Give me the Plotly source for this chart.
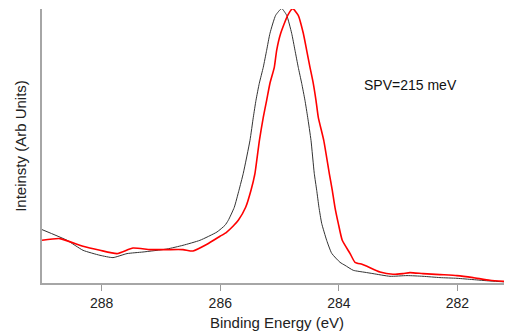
import plotly.graph_objects as go

# Binding energy (eV) and intensity (arb. units)
black_energy = [289.007, 288.585, 288.315, 288.029, 287.81, 287.573, 287.304, 286.90, 286.629,
                286.343, 286.056, 285.921, 285.865, 285.764, 285.685, 285.612, 285.499, 285.443,
                285.398, 285.342, 285.275, 285.218, 285.162, 285.066, 284.965, 284.880, 284.796,
                284.740, 284.685, 284.627, 284.572, 284.526, 284.470, 284.415, 284.374, 284.336,
                284.290, 284.206, 284.121, 283.981, 283.897, 283.757, 283.56, 283.425, 283.138,
                282.851, 282.581, 282.295, 282.008, 281.738, 281.452, 281.165]
black_intensity = [53.4, 42.7, 32.7, 27.7, 25.4, 29.4, 31.0, 34.0, 37.7,
                   42.7, 51.0, 57.7, 62.7, 75.7, 92.7, 109.7, 142.7, 165.7,
                   182.7, 199.7, 215.7, 232.7, 249.7, 267.7, 274.4, 267.7, 249.7,
                   232.7, 215.7, 199.7, 182.7, 165.7, 142.7, 109.7, 92.7, 75.7,
                   59.7, 42.7, 29.7, 20.7, 17.7, 12.7, 10.7, 9.4, 6.7,
                   7.4, 6.7, 5.4, 4.7, 3.4, 2.0, 1.0]

red_energy = [289.007, 288.703, 288.315, 288.029, 287.742, 287.472, 287.185, 286.90, 286.629,
              286.46, 286.224, 286.005, 285.896, 285.786, 285.696, 285.572, 285.482, 285.415,
              285.340, 285.275, 285.218, 285.162, 285.089, 285.049, 284.981, 284.863, 284.779,
              284.685, 284.600, 284.543, 284.487, 284.432, 284.386, 284.347, 284.255, 284.162,
              284.111, 284.066, 284.010, 283.943, 283.813, 283.728, 283.61, 283.526, 283.307,
              283.088, 282.919, 282.801, 282.582, 282.295, 282.008, 281.738, 281.452, 281.165]
red_intensity = [42.7, 44.4, 36.7, 32.7, 29.4, 35.0, 33.4, 33.4, 33.4,
                 32.0, 38.7, 46.7, 50.7, 56.7, 62.7, 75.7, 92.7, 109.7,
                 142.7, 165.7, 182.7, 199.7, 215.7, 232.7, 249.7, 267.7, 274.4,
                 267.7, 249.7, 232.7, 215.7, 199.7, 182.7, 165.7, 142.7, 109.7,
                 92.7, 75.7, 59.7, 42.7, 29.7, 20.7, 18.7, 16.7, 11.0,
                 8.7, 9.4, 10.4, 9.4, 8.4, 7.4, 5.4, 2.7, 1.4]

x_ticks = [288, 286, 284, 282]
annotation_text = "SPV=215 meV"

fig = go.Figure()
fig.add_trace(go.Scatter(x=black_energy, y=black_intensity, mode="lines",
                         line=dict(color="#333333", width=1, shape="spline", smoothing=0.5),
                         showlegend=False))
fig.add_trace(go.Scatter(x=red_energy, y=red_intensity, mode="lines",
                         line=dict(color="#ff0000", width=1.6, shape="spline", smoothing=0.5),
                         showlegend=False))

fig.add_annotation(text=annotation_text, x=282.8, y=198, xref="x", yref="y",
                   showarrow=False, font=dict(family="Liberation Sans, Arial", size=14, color="#111111"))

fig.update_layout(
    width=504, height=326,
    margin=dict(l=34, r=0, t=1, b=51),
    paper_bgcolor="white", plot_bgcolor="white",
    font=dict(family="Liberation Sans, Arial", size=14, color="#222222"),
    xaxis=dict(range=[289.007, 281.08], tickvals=x_ticks, ticks="outside", ticklen=6,
               tickcolor="#999999", tickwidth=1, showline=True, linecolor="#a6a6a6", linewidth=2,
               showgrid=False, zeroline=False, tickfont=dict(size=14, color="#222222"),
               title=dict(text="Binding Energy (eV)", font=dict(size=15, color="#222222"), standoff=8)),
    yaxis=dict(range=[0, 274], showticklabels=False, ticks="", showline=True, linecolor="#a6a6a6",
               linewidth=2, showgrid=False, zeroline=False,
               title=dict(text="Inteinsty (Arb Units)", font=dict(size=15, color="#222222"), standoff=10)),
)

fig.write_html("out.html")
